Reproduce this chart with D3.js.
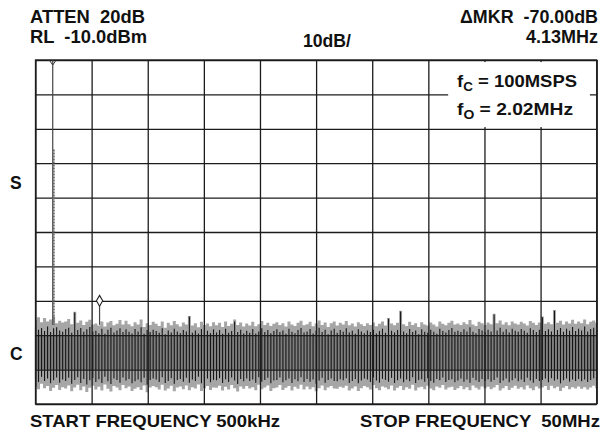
<!DOCTYPE html>
<html>
<head>
<meta charset="utf-8">
<script src="https://cdn.jsdelivr.net/npm/d3@7"></script>
<style>
  body { margin: 0; background: #fff; }
  svg text { font-family: "Liberation Sans", Arial, sans-serif; font-weight: bold; fill: #111; white-space: pre; }
</style>
</head>
<body>
<div id="chart"></div>
<script>
// sweep settings (MHz, dBm)
const startFreq = 0.5;
const stopFreq = 50;
const refLevel = -10;
const dbPerDiv = 10;

// carrier and marked harmonic
const toneFreqs = [2.02, 6.15];
const toneLevels = [-10, -80];
// level where the carrier line widens into its skirt (dBm)
const carrierSkirt = -36;

// grey hairs of the noise floor, top and bottom per sweep bin (dBm)
const noiseHi = [
  -85.5,-84.8,-86.2,-85.0,-86.0,-85.4,-84.6,-86.5,-85.8,-86.3,
  -86.0,-85.3,-86.8,-83.2,-86.4,-85.7,-87.0,-86.1,-85.5,-86.9,
  -86.6,-87.2,-86.0,-87.5,-86.3,-85.9,-87.1,-86.7,-85.6,-86.9,
  -85.8,-86.8,-87.4,-86.2,-86.9,-85.4,-87.6,-86.5,-87.0,-86.1,
  -86.7,-87.3,-86.0,-87.8,-86.4,-87.1,-85.9,-86.8,-87.5,-86.3,
  -86.9,-84.4,-87.2,-86.5,-87.7,-86.1,-87.0,-86.6,-87.4,-86.2,
  -87.1,-86.4,-87.6,-86.0,-87.3,-86.7,-85.4,-87.0,-86.3,-87.5,
  -86.6,-87.2,-86.1,-87.4,-86.8,-85.9,-87.0,-86.4,-87.3,-86.7,
  -86.2,-87.0,-86.5,-87.5,-86.0,-86.9,-87.3,-86.4,-85.8,-87.1,
  -86.8,-86.1,-87.4,-86.6,-85.7,-87.0,-86.3,-87.6,-86.5,-86.0,
  -87.2,-86.4,-86.9,-85.9,-87.1,-86.6,-87.5,-86.2,-86.8,-87.3,
  -86.5,-87.0,-86.3,-87.4,-86.7,-86.0,-87.2,-85.0,-86.6,-87.1,
  -86.4,-82.9,-86.8,-87.3,-86.1,-87.0,-86.5,-87.6,-86.2,-86.9,
  -87.2,-86.3,-86.9,-87.5,-86.0,-86.7,-87.1,-86.4,-85.8,-86.9,
  -86.6,-87.0,-86.2,-86.8,-85.6,-86.9,-87.3,-86.1,-86.5,-87.0,
  -86.3,-86.8,-83.8,-86.5,-85.7,-86.9,-86.2,-87.1,-86.0,-86.6,
  -86.9,-86.1,-86.6,-87.2,-85.9,-86.4,-87.0,-86.3,-84.6,-86.7,
  -86.2,-86.8,-82.7,-86.4,-85.8,-86.9,-86.0,-86.6,-85.5,-86.7,
  -86.0,-86.5,-85.4,-86.8,-86.1,-85.7,-86.4
];
const noiseLo = [
  -105.0,-105.7,-104.1,-105.4,-104.8,-106.2,-105.3,-104.5,-105.9,-105.1,
  -105.5,-104.6,-106.3,-105.2,-104.4,-106.0,-104.9,-106.5,-105.3,-104.7,
  -105.8,-105.0,-106.1,-104.3,-105.6,-106.4,-104.8,-105.2,-106.0,-104.5,
  -105.4,-104.9,-106.2,-105.6,-105.1,-105.9,-104.6,-106.6,-105.2,-104.8,
  -105.1,-105.8,-104.4,-106.1,-105.5,-104.7,-106.3,-105.2,-104.9,-105.7,
  -104.6,-106.0,-105.1,-105.5,-104.3,-106.2,-105.4,-104.8,-105.9,-105.2,
  -105.3,-104.7,-106.1,-105.0,-105.8,-104.5,-105.4,-106.4,-104.9,-105.6,
  -104.8,-105.5,-105.1,-106.0,-104.4,-105.7,-105.2,-104.6,-106.2,-105.4,
  -105.2,-104.5,-105.9,-105.3,-104.8,-106.1,-105.0,-105.6,-104.4,-105.8,
  -104.9,-105.7,-105.1,-106.3,-105.4,-104.6,-106.0,-105.2,-104.8,-105.5,
  -105.6,-105.0,-105.3,-104.7,-106.1,-105.5,-104.9,-106.2,-105.4,-104.8,
  -105.1,-105.8,-104.5,-105.4,-106.0,-104.9,-105.2,-105.7,-104.6,-106.1,
  -105.3,-104.8,-105.9,-105.1,-105.6,-104.4,-106.1,-105.2,-105.0,-105.7,
  -104.7,-105.5,-106.0,-104.9,-105.3,-104.5,-105.8,-105.2,-105.0,-105.9,
  -105.4,-104.8,-105.7,-105.1,-106.0,-104.6,-105.3,-105.8,-104.9,-105.5,
  -105.0,-105.7,-105.2,-104.5,-106.1,-105.4,-104.8,-105.9,-105.3,-104.7,
  -105.6,-105.1,-105.8,-104.6,-105.4,-106.0,-104.9,-105.5,-105.2,-104.8,
  -105.9,-104.7,-105.4,-105.0,-106.2,-105.3,-104.8,-105.7,-105.1,-105.5,
  -104.9,-105.6,-105.1,-105.8,-105.2,-104.7,-105.4
];

// dark trace lines of the noise floor, top and bottom per sweep bin (dBm)
const traceHi = [
  -87.6,-88.4,-87.9,-88.8,-87.5,-89.1,-88.0,-87.7,-88.6,-89.0,
  -88.2,-87.8,-89.3,-83.4,-88.5,-87.9,-89.0,-88.3,-87.6,-88.9,
  -88.7,-89.4,-88.1,-89.6,-88.4,-87.8,-89.2,-88.6,-88.0,-89.1,
  -88.3,-89.0,-89.5,-88.2,-88.9,-87.7,-89.6,-88.5,-89.1,-88.4,
  -88.8,-89.3,-88.0,-89.7,-88.6,-89.2,-88.1,-88.9,-89.4,-88.5,
  -88.9,-84.6,-89.3,-88.6,-89.5,-88.2,-89.0,-88.7,-89.4,-88.3,
  -89.2,-88.5,-89.6,-88.1,-89.3,-88.8,-86.0,-89.1,-88.4,-89.5,
  -88.7,-89.3,-88.2,-89.5,-88.9,-88.0,-89.1,-88.5,-89.4,-88.8,
  -88.3,-89.1,-88.6,-89.6,-88.1,-89.0,-89.4,-88.5,-87.9,-89.2,
  -88.9,-88.2,-89.5,-88.7,-87.8,-89.1,-88.4,-89.7,-88.6,-88.1,
  -89.3,-88.5,-89.0,-88.0,-89.2,-88.7,-89.6,-88.3,-88.9,-89.4,
  -88.6,-89.1,-88.4,-89.5,-88.8,-88.1,-89.3,-85.2,-88.7,-89.2,
  -88.5,-83.1,-88.9,-89.4,-88.2,-89.1,-88.6,-89.7,-88.3,-89.0,
  -89.3,-88.4,-89.0,-89.6,-88.1,-88.8,-89.2,-88.5,-87.9,-89.0,
  -88.7,-89.1,-88.3,-88.9,-87.7,-89.0,-89.4,-88.2,-88.6,-89.1,
  -88.4,-88.9,-84.0,-88.6,-87.8,-89.0,-88.3,-89.2,-88.1,-88.7,
  -89.0,-88.2,-88.7,-89.3,-88.0,-88.5,-89.1,-88.4,-84.8,-88.8,
  -88.3,-88.9,-82.9,-88.5,-87.9,-89.0,-88.1,-88.7,-87.6,-88.8,
  -88.1,-88.6,-87.5,-88.9,-88.2,-87.8,-88.5
];
const traceLo = [
  -102.8,-103.6,-102.1,-103.3,-102.6,-104.0,-103.1,-102.3,-103.8,-102.9,
  -103.3,-102.4,-104.1,-103.0,-102.2,-103.9,-102.7,-104.3,-103.1,-102.5,
  -103.6,-102.8,-103.9,-102.1,-103.4,-104.2,-102.6,-103.0,-103.8,-102.3,
  -103.2,-102.7,-104.0,-103.4,-102.9,-103.7,-102.4,-104.4,-103.0,-102.6,
  -102.9,-103.6,-102.2,-103.9,-103.3,-102.5,-104.1,-103.0,-102.7,-103.5,
  -102.4,-103.8,-102.9,-103.3,-102.1,-104.0,-103.2,-102.6,-103.7,-103.0,
  -103.1,-102.5,-103.9,-102.8,-103.6,-102.3,-103.2,-104.2,-102.7,-103.4,
  -102.6,-103.3,-102.9,-103.8,-102.2,-103.5,-103.0,-102.4,-104.0,-103.2,
  -103.0,-102.3,-103.7,-103.1,-102.6,-103.9,-102.8,-103.4,-102.2,-103.6,
  -102.7,-103.5,-102.9,-104.1,-103.2,-102.4,-103.8,-103.0,-102.6,-103.3,
  -103.4,-102.8,-103.1,-102.5,-103.9,-103.3,-102.7,-104.0,-103.2,-102.6,
  -102.9,-103.6,-102.3,-103.2,-103.8,-102.7,-103.0,-103.5,-102.4,-103.9,
  -103.1,-102.6,-103.7,-102.9,-103.4,-102.2,-103.9,-103.0,-102.8,-103.5,
  -102.5,-103.3,-103.8,-102.7,-103.1,-102.3,-103.6,-103.0,-102.8,-103.7,
  -103.2,-102.6,-103.5,-102.9,-103.8,-102.4,-103.1,-103.6,-102.7,-103.3,
  -102.8,-103.5,-103.0,-102.3,-103.9,-103.2,-102.6,-103.7,-103.1,-102.5,
  -103.4,-102.9,-103.6,-102.4,-103.2,-103.8,-102.7,-103.3,-103.0,-102.6,
  -103.7,-102.5,-103.2,-102.8,-104.0,-103.1,-102.6,-103.5,-102.9,-103.3,
  -102.7,-103.4,-102.9,-103.6,-103.0,-102.5,-103.2
];

// dense core of the sweep (dBm)
const coreBand = [-90, -100];

// header / footer text
const headLeft = ['ATTEN  20dB', 'RL  -10.0dBm'];
const headLeftW = [115, 117];
const headRight = ['\u0394MKR  -70.00dB', '4.13MHz'];
const headRightW = [138, 72];
const scaleLabel = '10dB/';
const footLeft = 'START FREQUENCY 500kHz';
const footRight = 'STOP FREQUENCY  50MHz';
const notes = [['C', ' = 100MSPS', 120], ['O', ' = 2.02MHz', 116]];

const width = 602;
const height = 434;
const margin = { top: 60, bottom: 30, left: 35.5, right: 5.3 };
const plotW = width - margin.left - margin.right;
const plotH = height - margin.top - margin.bottom;

const svg = d3.select('#chart')
  .append('svg')
  .attr('width', width)
  .attr('height', height);

const x = d3.scaleLinear().domain([startFreq, stopFreq]).range([0, plotW]);
const y = d3.scaleLinear().domain([refLevel - 10 * dbPerDiv, refLevel]).range([plotH, 0]);

const chart = svg.append('g')
  .attr('transform', `translate(${margin.left},${margin.top})`);

// noise floor first, the graticule shows through it
const binFreq = i => startFreq + i * (stopFreq - startFreq) / (noiseHi.length - 1);

const noiseArea = d3.area()
  .x((d, i) => x(binFreq(i)))
  .y0((d, i) => y(noiseLo[i]))
  .y1(d => y(d))
  .curve(d3.curveStep);

chart.append('path')
  .datum(noiseHi)
  .attr('d', noiseArea)
  .attr('fill', '#a6a6a6');

chart.append('rect')
  .attr('x', 0)
  .attr('y', y(coreBand[0]))
  .attr('width', plotW)
  .attr('height', y(coreBand[1]) - y(coreBand[0]))
  .attr('fill', '#7e7e7e');

chart.selectAll('.trace')
  .data(traceHi)
  .enter()
  .append('line')
  .attr('class', 'trace')
  .attr('x1', (d, i) => x(binFreq(i)))
  .attr('x2', (d, i) => x(binFreq(i)))
  .attr('y1', d => y(d))
  .attr('y2', (d, i) => y(traceLo[i]))
  .attr('stroke', '#161616')
  .attr('stroke-width', 1.1);

// graticule, 10 x 10 divisions
const xDivs = d3.range(11).map(i => startFreq + i * (stopFreq - startFreq) / 10);
const gridX = d3.axisBottom(x).tickValues(xDivs).tickSize(-plotH).tickFormat('');
const gridY = d3.axisLeft(y).ticks(10).tickSize(-plotW).tickFormat('');

chart.append('g')
  .attr('class', 'grid')
  .attr('transform', `translate(0,${plotH})`)
  .call(gridX);
chart.append('g')
  .attr('class', 'grid')
  .call(gridY);
chart.selectAll('.grid .domain').remove();
chart.selectAll('.grid line')
  .attr('stroke', '#1c1c1c')
  .attr('stroke-width', 1.3);

// white panel for the annotation in the top right
chart.append('rect')
  .attr('x', x(36.9))
  .attr('y', y(-10.6))
  .attr('width', x(49.4) - x(36.9))
  .attr('height', y(-29.5) - y(-10.6))
  .attr('fill', '#fff');

chart.append('rect')
  .attr('x', 0).attr('y', 0)
  .attr('width', plotW).attr('height', plotH)
  .attr('fill', 'none')
  .attr('stroke', '#1c1c1c')
  .attr('stroke-width', 1.3);

// tones
chart.selectAll('.tone')
  .data(toneFreqs)
  .enter()
  .append('line')
  .attr('class', 'tone')
  .attr('x1', d => x(d))
  .attr('x2', d => x(d))
  .attr('y1', (d, i) => y(toneLevels[i]))
  .attr('y2', y(-87))
  .attr('stroke', '#444')
  .attr('stroke-width', 1.2);

// widened lower part of the carrier
chart.append('line')
  .attr('x1', x(toneFreqs[0]) + 0.8)
  .attr('x2', x(toneFreqs[0]) + 0.8)
  .attr('y1', y(carrierSkirt))
  .attr('y2', y(-87))
  .attr('stroke', '#6a6a6a')
  .attr('stroke-width', 2.4)
  .attr('stroke-dasharray', '2,1');

// reference marker on the carrier, delta marker on the harmonic
const mx = x(toneFreqs[0]);
chart.append('path')
  .attr('d', `M${mx - 3.5},0 L${mx},5 L${mx + 3.5},0`)
  .attr('fill', 'none')
  .attr('stroke', '#333')
  .attr('stroke-width', 1);

chart.append('path')
  .attr('d', d3.symbol(d3.symbolDiamond, 34)())
  .attr('transform', `translate(${x(toneFreqs[1])},${y(toneLevels[1])})`)
  .attr('fill', '#fff')
  .attr('stroke', '#222')
  .attr('stroke-width', 1.1);

// annotation
const note = chart.append('g').attr('transform', `translate(${x(37.68)},0)`);
notes.forEach((n, i) => {
  const t = note.append('text')
    .attr('y', 26.7 + i * 28.5)
    .attr('textLength', n[2])
    .attr('lengthAdjust', 'spacingAndGlyphs')
    .style('font-size', '16.5px');
  t.append('tspan').text('f');
  t.append('tspan').attr('dy', 4).style('font-size', '12px').text(n[0]);
  t.append('tspan').attr('dy', -4).text(n[1]);
});

// header
svg.selectAll('.head-l')
  .data(headLeft)
  .enter()
  .append('text')
  .attr('class', 'head-l')
  .attr('x', 30)
  .attr('y', (d, i) => 23 + i * 20)
  .attr('textLength', (d, i) => headLeftW[i])
  .attr('lengthAdjust', 'spacingAndGlyphs')
  .style('font-size', '17.5px')
  .text(d => d);

svg.selectAll('.head-r')
  .data(headRight)
  .enter()
  .append('text')
  .attr('class', 'head-r')
  .attr('x', 598)
  .attr('y', (d, i) => 23 + i * 20)
  .attr('textLength', (d, i) => headRightW[i])
  .attr('lengthAdjust', 'spacingAndGlyphs')
  .style('font-size', '17.5px')
  .style('text-anchor', 'end')
  .text(d => d);

svg.append('text')
  .attr('x', 303)
  .attr('y', 47)
  .attr('textLength', 48)
  .attr('lengthAdjust', 'spacingAndGlyphs')
  .style('font-size', '17.5px')
  .text(scaleLabel);

// side labels
svg.append('text').attr('x', 10).attr('y', 189).style('font-size', '17.5px').text('S');
svg.append('text').attr('x', 10).attr('y', 360).style('font-size', '17.5px').text('C');

// footer
svg.append('text')
  .attr('x', 30)
  .attr('y', 427)
  .attr('textLength', 250)
  .attr('lengthAdjust', 'spacingAndGlyphs')
  .style('font-size', '17px')
  .text(footLeft);

svg.append('text')
  .attr('x', 600)
  .attr('y', 427)
  .attr('textLength', 240)
  .attr('lengthAdjust', 'spacingAndGlyphs')
  .style('font-size', '17px')
  .style('text-anchor', 'end')
  .text(footRight);
</script>
</body>
</html>
